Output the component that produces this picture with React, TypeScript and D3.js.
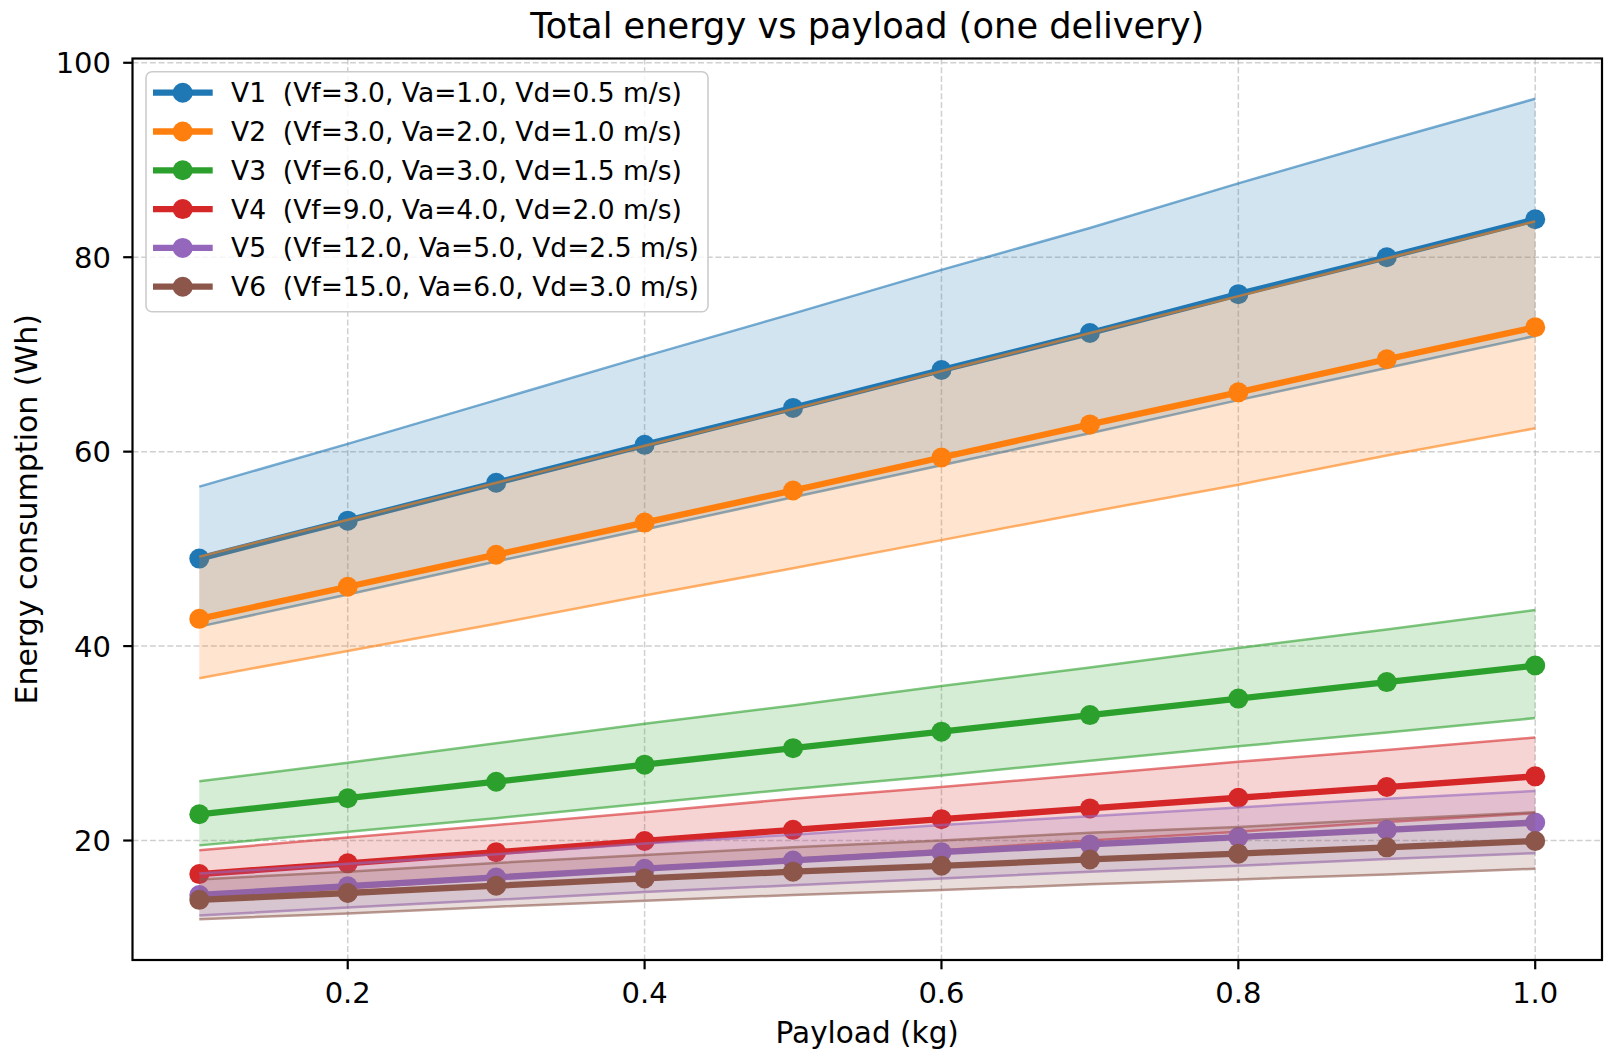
import * as d3 from "d3";
import React from "react";

// payload values (kg)
const payload = [0.1, 0.2, 0.3, 0.4, 0.5, 0.6, 0.7, 0.8, 0.9, 1.0];

const seriesNames = [
  "V1  (Vf=3.0, Va=1.0, Vd=0.5 m/s)",
  "V2  (Vf=3.0, Va=2.0, Vd=1.0 m/s)",
  "V3  (Vf=6.0, Va=3.0, Vd=1.5 m/s)",
  "V4  (Vf=9.0, Va=4.0, Vd=2.0 m/s)",
  "V5  (Vf=12.0, Va=5.0, Vd=2.5 m/s)",
  "V6  (Vf=15.0, Va=6.0, Vd=3.0 m/s)",
];

const colors = ["#1f77b4", "#ff7f0e", "#2ca02c", "#d62728", "#9467bd", "#8c564b"];

// mean energy (Wh)
const v1 = [49.0, 52.9, 56.8, 60.7, 64.5, 68.4, 72.2, 76.2, 80.0, 83.9];
const v2 = [42.8, 46.1, 49.4, 52.7, 56.0, 59.4, 62.8, 66.1, 69.5, 72.8];
const v3 = [22.7, 24.35, 26.05, 27.8, 29.5, 31.2, 32.9, 34.6, 36.3, 38.0];
const v4 = [16.55, 17.65, 18.8, 19.95, 21.1, 22.2, 23.3, 24.4, 25.5, 26.6];
const v5 = [14.4, 15.3, 16.2, 17.1, 17.95, 18.8, 19.6, 20.35, 21.1, 21.85];
const v6 = [13.9, 14.6, 15.35, 16.1, 16.8, 17.4, 18.05, 18.65, 19.3, 19.95];

// band upper edges
const v1Hi = [56.4, 60.8, 65.3, 69.8, 74.2, 78.7, 83.0, 87.6, 92.0, 96.3];
const v2Hi = [49.2, 53.0, 56.8, 60.6, 64.4, 68.3, 72.2, 76.0, 79.9, 83.7];
const v3Hi = [26.1, 28.0, 30.0, 32.0, 33.9, 35.9, 37.8, 39.8, 41.7, 43.7];
const v4Hi = [19.0, 20.3, 21.6, 22.9, 24.3, 25.5, 26.8, 28.1, 29.3, 30.6];
const v5Hi = [16.6, 17.6, 18.6, 19.7, 20.6, 21.6, 22.5, 23.4, 24.3, 25.1];
const v6Hi = [16.0, 16.8, 17.7, 18.5, 19.3, 20.0, 20.8, 21.4, 22.2, 22.9];

// band lower edges
const v1Lo = [42.0, 45.3, 48.7, 52.0, 55.3, 58.6, 61.9, 65.3, 68.6, 71.9];
const v2Lo = [36.7, 39.5, 42.3, 45.2, 48.0, 50.9, 53.8, 56.6, 59.6, 62.4];
const v3Lo = [19.5, 20.9, 22.3, 23.8, 25.3, 26.7, 28.2, 29.7, 31.1, 32.6];
const v4Lo = [14.2, 15.1, 16.1, 17.1, 18.1, 19.0, 20.0, 20.9, 21.9, 22.8];
const v5Lo = [12.3, 13.1, 13.9, 14.7, 15.4, 16.1, 16.8, 17.4, 18.1, 18.7];
const v6Lo = [11.9, 12.5, 13.2, 13.8, 14.4, 14.9, 15.5, 16.0, 16.5, 17.1];

const xTicks = [0.2, 0.4, 0.6, 0.8, 1.0];
const yTicks = [20, 40, 60, 80, 100];

const means = [v1, v2, v3, v4, v5, v6];
const highs = [v1Hi, v2Hi, v3Hi, v4Hi, v5Hi, v6Hi];
const lows = [v1Lo, v2Lo, v3Lo, v4Lo, v5Lo, v6Lo];

const W = 1615;
const H = 1064;
const left = 132.5, right = 1602, top = 58.5, bottom = 960;
const font = "'DejaVu Sans', sans-serif";

export default function App() {
  const x = d3.scaleLinear().domain([0.055, 1.045]).range([left, right]);
  const y = d3.scaleLinear().domain([7.71, 100.44]).range([bottom, top]);

  const line = d3.line<number>()
    .x((_, i) => x(payload[i]))
    .y((d) => y(d));

  const band = (hi: number[], lo: number[]) =>
    d3.area<number>()
      .x((_, i) => x(payload[i]))
      .y0((_, i) => y(lo[i]))
      .y1((d) => y(d))(hi) || "";

  const legX = 146, legY = 71.7, legW = 562, legH = 240;
  const rowY = (i: number) => 92.7 + i * 38.8;

  return (
    <svg width={W} height={H} style={{ position: "absolute", left: 0, top: 0, background: "#fff" }}
      fontFamily={font}>
      <rect width={W} height={H} fill="#fff" />
      <defs>
        <clipPath id="plot">
          <rect x={left} y={top} width={right - left} height={bottom - top} />
        </clipPath>
      </defs>

      {/* grid */}
      <g stroke="#b0b0b0" strokeOpacity={0.6} strokeWidth={1.5} strokeDasharray="6 2.7">
        {xTicks.map((t) => (
          <line key={"gx" + t} x1={x(t)} x2={x(t)} y1={top} y2={bottom} />
        ))}
        {yTicks.map((t) => (
          <line key={"gy" + t} x1={left} x2={right} y1={y(t)} y2={y(t)} />
        ))}
      </g>

      {/* series */}
      <g clipPath="url(#plot)">
        {means.map((m, k) => (
          <g key={"s" + k}>
            <path d={band(highs[k], lows[k])} fill={colors[k]} fillOpacity={0.2} />
            <path d={line(highs[k]) || ""} fill="none" stroke={colors[k]} strokeOpacity={0.6} strokeWidth={2.5} />
            <path d={line(lows[k]) || ""} fill="none" stroke={colors[k]} strokeOpacity={0.6} strokeWidth={2.5} />
            <path d={line(m) || ""} fill="none" stroke={colors[k]} strokeWidth={6.3} strokeLinejoin="round" />
            {m.map((v, i) => (
              <circle key={i} cx={x(payload[i])} cy={y(v)} r={10} fill={colors[k]} />
            ))}
          </g>
        ))}
      </g>

      {/* axes frame */}
      <rect x={left} y={top} width={right - left} height={bottom - top} fill="none" stroke="#000" strokeWidth={2.2} />

      {/* x ticks */}
      {xTicks.map((t) => (
        <g key={"xt" + t}>
          <line x1={x(t)} x2={x(t)} y1={bottom} y2={bottom + 9.3} stroke="#000" strokeWidth={2.2} />
          <text x={x(t)} y={1003.3} textAnchor="middle" fontSize={29} fill="#000">{t.toFixed(1)}</text>
        </g>
      ))}

      {/* y ticks */}
      {yTicks.map((t) => (
        <g key={"yt" + t}>
          <line x1={left - 9.3} x2={left} y1={y(t)} y2={y(t)} stroke="#000" strokeWidth={2.2} />
          <text x={111} y={y(t)} dy="0.36em" textAnchor="end" fontSize={29} fill="#000">{t}</text>
        </g>
      ))}

      {/* labels */}
      <text x={(left + right) / 2} y={38.3} textAnchor="middle" fontSize={35.2} fill="#000">
        Total energy vs payload (one delivery)
      </text>
      <text x={(left + right) / 2} y={1042.7} textAnchor="middle" fontSize={29.5} fill="#000">
        Payload (kg)
      </text>
      <text transform={`translate(36.7,${(top + bottom) / 2}) rotate(-90)`} textAnchor="middle" fontSize={30} fill="#000">
        Energy consumption (Wh)
      </text>

      {/* legend */}
      <g>
        <rect x={legX} y={legY} width={legW} height={legH} rx={6} fill="#fff" fillOpacity={0.8}
          stroke="#cccccc" strokeWidth={1.6} />
        {seriesNames.map((name, i) => (
          <g key={"lg" + i}>
            <line x1={153} x2={212.7} y1={rowY(i)} y2={rowY(i)} stroke={colors[i]} strokeWidth={6.3} />
            <circle cx={182.7} cy={rowY(i)} r={10} fill={colors[i]} />
            <text x={231} y={rowY(i)} dy="0.36em" fontSize={26.5} fill="#000" style={{ whiteSpace: "pre" }}>
              {name}
            </text>
          </g>
        ))}
      </g>
    </svg>
  );
}
